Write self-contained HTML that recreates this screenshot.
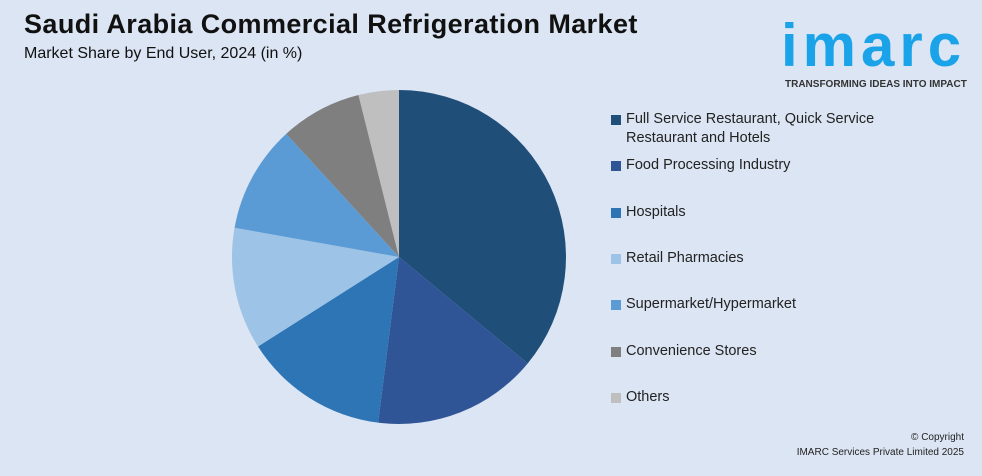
<!DOCTYPE html>
<html><head><meta charset="utf-8"><style>
body{margin:0;width:982px;height:476px;background:#dce5f3;font-family:"Liberation Sans",sans-serif;overflow:hidden;position:relative}
.t{position:absolute;left:24px;top:9px;font-size:27px;letter-spacing:0.4px;font-weight:bold;color:#111;white-space:nowrap}
.s{position:absolute;left:24px;top:45px;font-size:16px;color:#111;white-space:nowrap}
.lg{position:absolute;left:611px;font-size:14.5px;color:#222;line-height:19px}
.lg i{position:absolute;left:0;top:5px;width:10px;height:10px}
.lg span{display:block;padding-left:15px}
.logo{position:absolute;left:781px;top:16px;color:#1aa3e8;font-size:60px;font-weight:bold;letter-spacing:5px;line-height:60px}
.tag{position:absolute;left:785px;top:79px;font-size:10px;font-weight:bold;color:#333;white-space:nowrap}
.cp{position:absolute;right:18px;top:430px;font-size:10px;color:#222;text-align:right;line-height:15px}
</style></head><body>
<div class="t">Saudi Arabia Commercial Refrigeration Market</div>
<div class="s">Market Share by End User, 2024 (in %)</div>
<div class="logo">imarc</div>
<div class="tag">TRANSFORMING IDEAS INTO IMPACT</div>
<svg id="pie" width="982" height="476" style="position:absolute;left:0;top:0"></svg>
<div id="legend"></div>
<div class="cp">© Copyright<br>IMARC Services Private Limited 2025</div>
<script>
const categories=["Full Service Restaurant, Quick Service Restaurant and Hotels","Food Processing Industry","Hospitals","Retail Pharmacies","Supermarket/Hypermarket","Convenience Stores","Others"];
const values=[36,16,14,11.8,10.4,7.9,3.9];
const colors=["#1f4e79","#2f5597","#2e75b6","#9dc3e6","#5b9bd5","#7f7f7f","#bfbfbf"];
const legendTops=[110,156,203,249,295,342,388];
const cx=399,cy=257,r=167;
const svg=document.getElementById('pie');
const total=values.reduce((a,b)=>a+b,0);
let a0=0;
values.forEach((v,i)=>{
  const a1=a0+v/total*2*Math.PI;
  const x0=cx+r*Math.sin(a0),y0=cy-r*Math.cos(a0),x1=cx+r*Math.sin(a1),y1=cy-r*Math.cos(a1);
  const p=document.createElementNS('http://www.w3.org/2000/svg','path');
  p.setAttribute('d',`M${cx},${cy}L${x0},${y0}A${r},${r} 0 ${a1-a0>Math.PI?1:0} 1 ${x1},${y1}Z`);
  p.setAttribute('fill',colors[i]);
  
  
  svg.appendChild(p);
  a0=a1;
});
const lg=document.getElementById('legend');
categories.forEach((c,i)=>{
  const d=document.createElement('div');
  d.className='lg';d.style.top=legendTops[i]+'px';
  
  
  d.innerHTML=`<i style="background:${colors[i]}"></i><span>${i==0?'Full Service Restaurant, Quick Service<br>Restaurant and Hotels':c}</span>`;
  lg.appendChild(d);
});
</script>
</body></html>
